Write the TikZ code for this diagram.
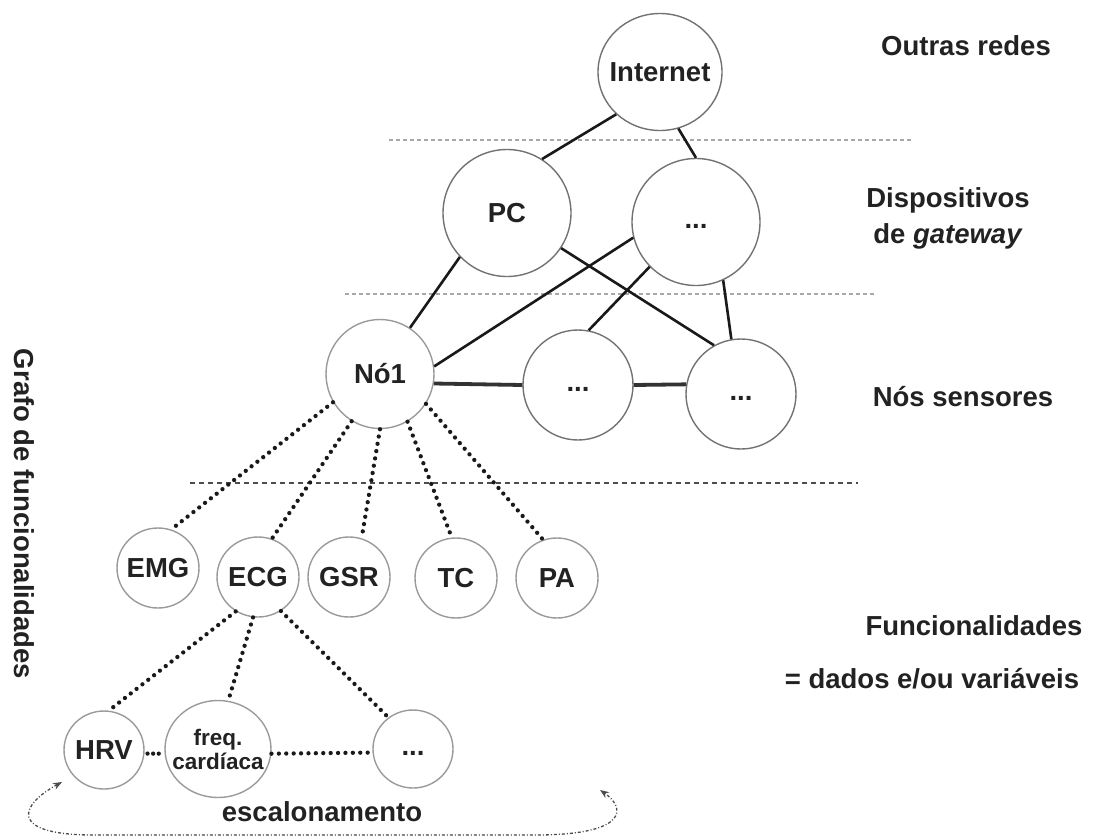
\documentclass[tikz,border=0pt]{standalone}
\usepackage{fontspec}
\setmainfont{Liberation Sans}
\usetikzlibrary{shapes.geometric,arrows.meta}

\definecolor{ink}{HTML}{222222}
\definecolor{rim}{HTML}{727272}
\definecolor{rimlight}{HTML}{9A9A9A}
\definecolor{sep}{HTML}{A8A8A8}

\begin{document}
\begin{tikzpicture}[x=1pt,y=-1pt,
  every node/.style={text=ink, font=\fontsize{27.5}{32}\selectfont\bfseries},
  bubble/.style={ellipse, draw=rim, line width=1.4pt, inner xsep=-10pt, inner ysep=0pt},
  smallbubble/.style={bubble, draw=rimlight, minimum width=82pt, minimum height=80pt},
  ellipsis/.style={text height=13pt, text depth=0pt},
  link/.style={line width=2.6pt, black!90},
  thicklink/.style={line width=3.8pt, black!80},
  dotlink/.style={line width=4.3pt, black!90, line cap=round,
    dash pattern=on 0pt off 7.4pt},
  shortdots/.style={dotlink, dash pattern=on 0pt off 5.6pt, shorten <=3pt, shorten >=3pt},
  layer/.style={line width=2pt, sep, dash pattern=on 4pt off 3pt},
  layerthin/.style={line width=1.1pt, black!70, dash pattern=on 5pt off 4pt},
  label/.style={align=center},
  scaling/.style={line width=1.3pt, black!70, dash pattern=on 3pt off 2pt on 1pt off 2pt,
    {Stealth[length=9pt,width=7pt]}-{Stealth[length=9pt,width=7pt]}}
]
\useasboundingbox (0,0) rectangle (1095,839);

% layer separators
\coordinate (s1a) at (389,140); \coordinate (s1b) at (913,140);
\coordinate (s2a) at (345,294); \coordinate (s2b) at (877,294);
\coordinate (s3a) at (190,483); \coordinate (s3b) at (858,483);
\draw[layer] (s1a) -- (s1b);
\draw[layer] (s2a) -- (s2b);
\draw[layerthin] (s3a) -- (s3b);

% network nodes
\node[bubble, minimum width=124pt, minimum height=117pt] (inet) at (660,72) {Internet};
\node[bubble, minimum width=128pt, minimum height=127pt] (pc) at (507,213) {PC};
\node[bubble, ellipsis, minimum width=128pt, minimum height=127pt] (gw) at (696,222) {...};
\node[bubble, draw=rimlight, minimum width=108pt, minimum height=109pt] (no1) at (380,374) {Nó1};
\node[bubble, ellipsis, minimum width=110pt, minimum height=110pt] (sa) at (578,385) {...};
\node[bubble, ellipsis, minimum width=110pt, minimum height=110pt] (sb) at (741,394) {...};

% functionalities
\node[smallbubble] (emg) at (158,568) {EMG};
\node[smallbubble] (ecg) at (258,577) {ECG};
\node[smallbubble] (gsr) at (349,577) {GSR};
\node[smallbubble] (tc) at (456,578) {TC};
\node[smallbubble] (pa) at (557,578) {PA};

\node[smallbubble, minimum width=80pt, minimum height=78pt] (hrv) at (104,750) {HRV};
\node[smallbubble, minimum width=106pt, minimum height=97pt, align=center,
  font=\fontsize{22.5}{24}\selectfont\bfseries] (freq) at (218,749) {freq.\\cardíaca};
\node[smallbubble, ellipsis, minimum width=80pt, minimum height=78pt] (more) at (413,749) {...};

% network links
\draw[link] (inet.224) -- (pc.57);
\draw[link] (inet.288) -- (gw.90);
\draw[link] (pc.223) -- (no1.57);
\draw[link] (gw.194) -- (no1.8);
\draw[link] (gw.224) -- (sa.79);
\draw[link] (pc.327) -- (sb.119);
\draw[link] (gw.295) -- (sb.100);
\draw[thicklink] (no1.350) -- (sa.180);
\draw[thicklink] (sa.0) -- (sb.170);

% functional links
\draw[dotlink] (no1.211) -- (emg.71);
\draw[dotlink] (no1.239) -- (ecg.70);
\draw[dotlink] (no1.270) -- (gsr.72);
\draw[dotlink] (no1.300) -- (tc.96);
\draw[dotlink] (no1.327) -- (pa.110);
\draw[dotlink] (ecg.237) -- (hrv.83);
\draw[dotlink] (ecg.263) -- (freq.78);
\draw[dotlink] (ecg.304) -- (more.128);
\draw[shortdots] (hrv.355) -- (freq.185);
\draw[dotlink] (freq.355) -- (more.185);

% scaling loop
\coordinate (eL) at (62,782);
\coordinate (eR) at (600,790);
\draw[scaling] (eL) .. controls (20,805) and (8,834) .. (90,835)
  -- (540,835) .. controls (628,834) and (626,808) .. (eR);
\node (esc) at (322,812) {escalonamento};

% layer captions
\node (cap1) at (966,46) {Outras redes};
\node[label, font=\fontsize{27.5}{36}\selectfont\bfseries] (cap2) at (948,218) {Dispositivos\\de \textit{gateway}};
\node (cap3) at (963,397) {Nós sensores};
\node (cap4) at (974,626) {Funcionalidades};
\node (cap5) at (932,679) {= dados e/ou variáveis};
\node[rotate=-90] (side) at (24,514) {Grafo de funcionalidades};
\end{tikzpicture}
\end{document}
